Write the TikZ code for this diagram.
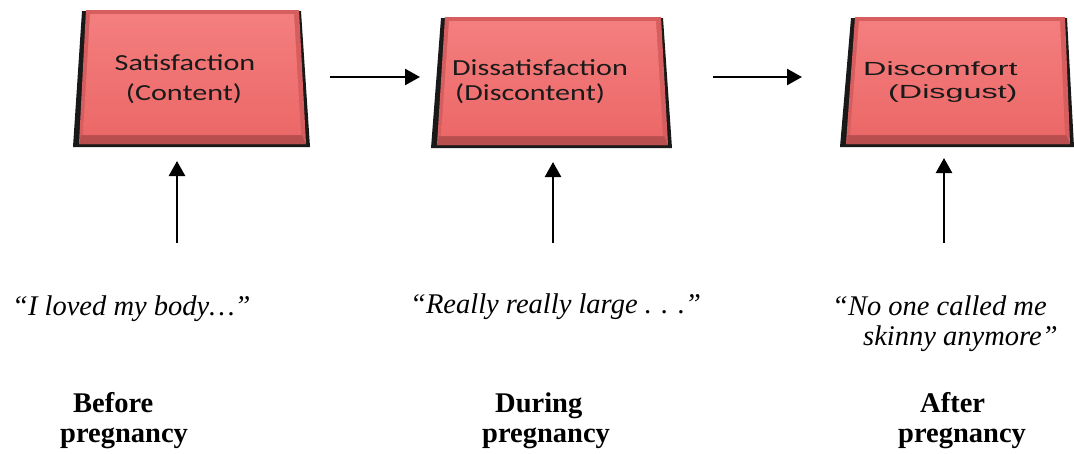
\documentclass[tikz,border=0pt]{standalone}
\usepackage{fontspec}
\setmainfont{Liberation Serif}
\newfontfamily\calib{Carlito}
\newfontfamily\arialf{Liberation Sans}
\usetikzlibrary{arrows.meta}
\definecolor{facetop}{HTML}{F47E7E}
\definecolor{facebot}{HTML}{EC6868}
\definecolor{bevelc}{HTML}{D65E5E}
\definecolor{bevelbot}{HTML}{B84E4E}
\definecolor{boxtext}{HTML}{1A1A1A}
\newcommand\redbox[6]{%
  \fill[black!90] (#1-1,#5+1) -- (#2+1,#5+1) -- (#4+2,#6) -- (#3-2,#6) -- cycle;
  \fill[bevelc] (#1+3,#5) -- (#2-1,#5) -- (#4-2,#6-3) -- (#3+4,#6-3) -- cycle;
  \fill[bevelbot] (#3+6,#6-12) -- (#4-6,#6-12) -- (#4-2,#6-3) -- (#3+4,#6-3) -- cycle;
  \shade[top color=facetop,bottom color=facebot] (#1+7,#5+4) -- (#2-6,#5+4) -- (#4-7,#6-12) -- (#3+8,#6-12) -- cycle;
}
\tikzset{
  x=1pt,y=-1pt,
  boxcal/.style={inner sep=0pt,text=boxtext,font=\calib\fontsize{23}{27}\selectfont},
  boxari/.style={inner sep=0pt,text=boxtext,font=\arialf\fontsize{19}{23}\selectfont},
  quote/.style={inner sep=0pt,font=\itshape\fontsize{28.5}{30}\selectfont},
  phase/.style={inner sep=0pt,font=\bfseries\fontsize{28.5}{30}\selectfont},
  arr/.style={line width=2.5pt,-{Triangle[length=15pt,width=16pt]}}
}
\newcommand\wide[2]{\scalebox{#1}[1]{#2}}
\begin{document}
\begin{tikzpicture}
\useasboundingbox (0,0) rectangle (1074,453);
% boxes
\redbox{83}{300}{75}{308}{10}{147}
\redbox{442}{662}{433}{670}{17}{148}
\redbox{852}{1066}{842}{1072}{17}{147}
% box texts
\node[boxcal,anchor=base] (b1a) at (185,70) {\wide{1.31}{Satisfaction}};
\node[boxcal,anchor=base] (b1b) at (184,100) {\wide{1.31}{(Content)}};
\node[boxcal,anchor=base west] (b2a) at (452,75) {\wide{1.31}{Dissatisfaction}};
\node[boxcal,anchor=base west] (b2b) at (455,100) {\wide{1.31}{(Discontent)}};
\node[boxari,anchor=base west] (b3a) at (863,75) {\wide{1.7}{Discomfort}};
\node[boxari,anchor=base west] (b3b) at (888,98) {\wide{1.7}{(Disgust)}};
% horizontal arrows
\coordinate (h1s) at (330,77); \coordinate (h1e) at (420,77);
\coordinate (h2s) at (713,77); \coordinate (h2e) at (802,77);
\draw[arr] (h1s) -- (h1e);
\draw[arr] (h2s) -- (h2e);
% vertical arrows
\coordinate (v1s) at (177,243); \coordinate (v1e) at (177,161);
\coordinate (v2s) at (553,243); \coordinate (v2e) at (553,162);
\coordinate (v3s) at (944,243); \coordinate (v3e) at (944,158);
\draw[arr] (v1s) -- (v1e);
\draw[arr] (v2s) -- (v2e);
\draw[arr] (v3s) -- (v3e);
% quotes
\node[quote,anchor=base west] (q1) at (12,315) {``I loved my body\ldots''};
\node[quote,anchor=base west] (q2) at (410,313) {``Really really large . . .''};
\node[quote,anchor=base west] (q3a) at (832,315) {``No one called me};
\node[quote,anchor=base west] (q3b) at (863,345) {skinny anymore''};
% phases
\node[phase,anchor=base west] (p1a) at (73,412) {Before};
\node[phase,anchor=base west] (p1b) at (60,442) {pregnancy};
\node[phase,anchor=base west] (p2a) at (495,412) {During};
\node[phase,anchor=base west] (p2b) at (482,442) {pregnancy};
\node[phase,anchor=base west] (p3a) at (920,412) {After};
\node[phase,anchor=base west] (p3b) at (898,442) {pregnancy};
\end{tikzpicture}
\end{document}
